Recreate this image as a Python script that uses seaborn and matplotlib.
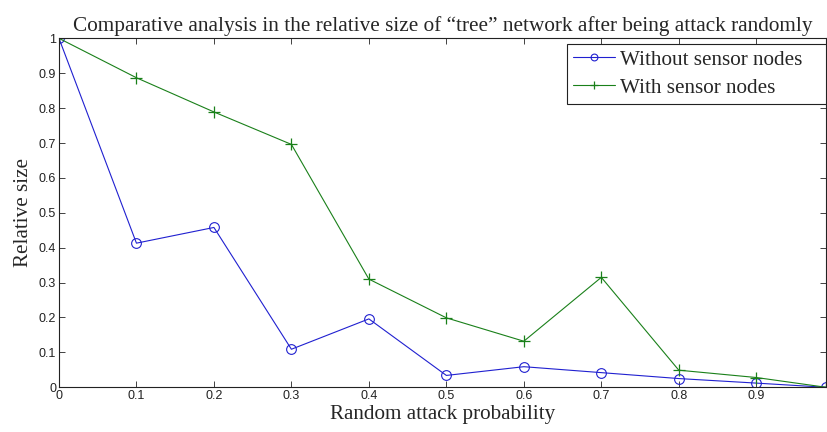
import numpy as np
import pandas as pd
import matplotlib
matplotlib.use('Agg')
import matplotlib.pyplot as plt
import seaborn as sns

sns.set_style('white')

# data
attack_prob = [0, 0.1, 0.2, 0.3, 0.4, 0.5, 0.6, 0.7, 0.8, 0.9, 0.99]
without_sensor = [1.0, 0.413, 0.458, 0.109, 0.196, 0.034, 0.059, 0.042, 0.025, 0.012, 0.0]
with_sensor = [1.0, 0.887, 0.789, 0.696, 0.310, 0.199, 0.132, 0.315, 0.049, 0.028, 0.0]
x_ticks = [0, 0.1, 0.2, 0.3, 0.4, 0.5, 0.6, 0.7, 0.8, 0.9]
x_tick_labels = ['0', '0.1', '0.2', '0.3', '0.4', '0.5', '0.6', '0.7', '0.8', '0.9']
y_ticks = [0, 0.1, 0.2, 0.3, 0.4, 0.5, 0.6, 0.7, 0.8, 0.9, 1.0]
y_tick_labels = ['0', '0.1', '0.2', '0.3', '0.4', '0.5', '0.6', '0.7', '0.8', '0.9', '1']

df = pd.DataFrame({'p': attack_prob, 'without': without_sensor, 'with': with_sensor})

serif = 'Liberation Serif'
sans = 'Liberation Sans'
blue = '#2020d0'
green = '#1a801a'

fig = plt.figure(figsize=(8.27, 4.32), dpi=100)
ax = fig.add_axes([0.0713, 0.1035, 0.9275, 0.8078])

sns.lineplot(data=df, x='p', y='without', ax=ax, color=blue, lw=0.8,
             marker='o', markersize=7, markerfacecolor='none', markeredgecolor=blue,
             markeredgewidth=0.8, label='Without sensor nodes')
sns.lineplot(data=df, x='p', y='with', ax=ax, color=green, lw=0.8,
             marker='+', markersize=8, markeredgecolor=green, markeredgewidth=0.9,
             label='With sensor nodes')

ax.set_xlim(0, 0.99)
ax.set_ylim(0, 1)
ax.set_xticks(x_ticks)
ax.set_xticklabels(x_tick_labels, fontfamily=sans, fontsize=9)
ax.set_yticks(y_ticks)
ax.set_yticklabels(y_tick_labels, fontfamily=sans, fontsize=9)
ax.tick_params(direction='in', length=4, width=0.6, top=True, right=True,
               bottom=True, left=True, pad=2, colors='#222222')
for s in ax.spines.values():
    s.set_linewidth(0.8)
    s.set_color('#222222')

ax.set_title('Comparative analysis in the relative size of \u201ctree\u201d network after being attack randomly',
             fontfamily=serif, fontsize=15.3, pad=5)
ax.set_xlabel('Random attack probability', fontfamily=serif, fontsize=15.2, labelpad=2)
ax.set_ylabel('Relative size', fontfamily=serif, fontsize=15.2, labelpad=4)

leg = ax.legend(loc='upper left', bbox_to_anchor=(0.662, 0.0, 0.338, 0.984), mode='expand',
                prop={'family': serif, 'size': 15.2}, fancybox=False,
                edgecolor='#222222', framealpha=1, borderaxespad=0,
                handlelength=2.0, handletextpad=0.25, labelspacing=0.4, borderpad=0.28,
                markerscale=0.7)
leg.get_frame().set_linewidth(0.8)

fig.savefig('out.png', dpi=100)
